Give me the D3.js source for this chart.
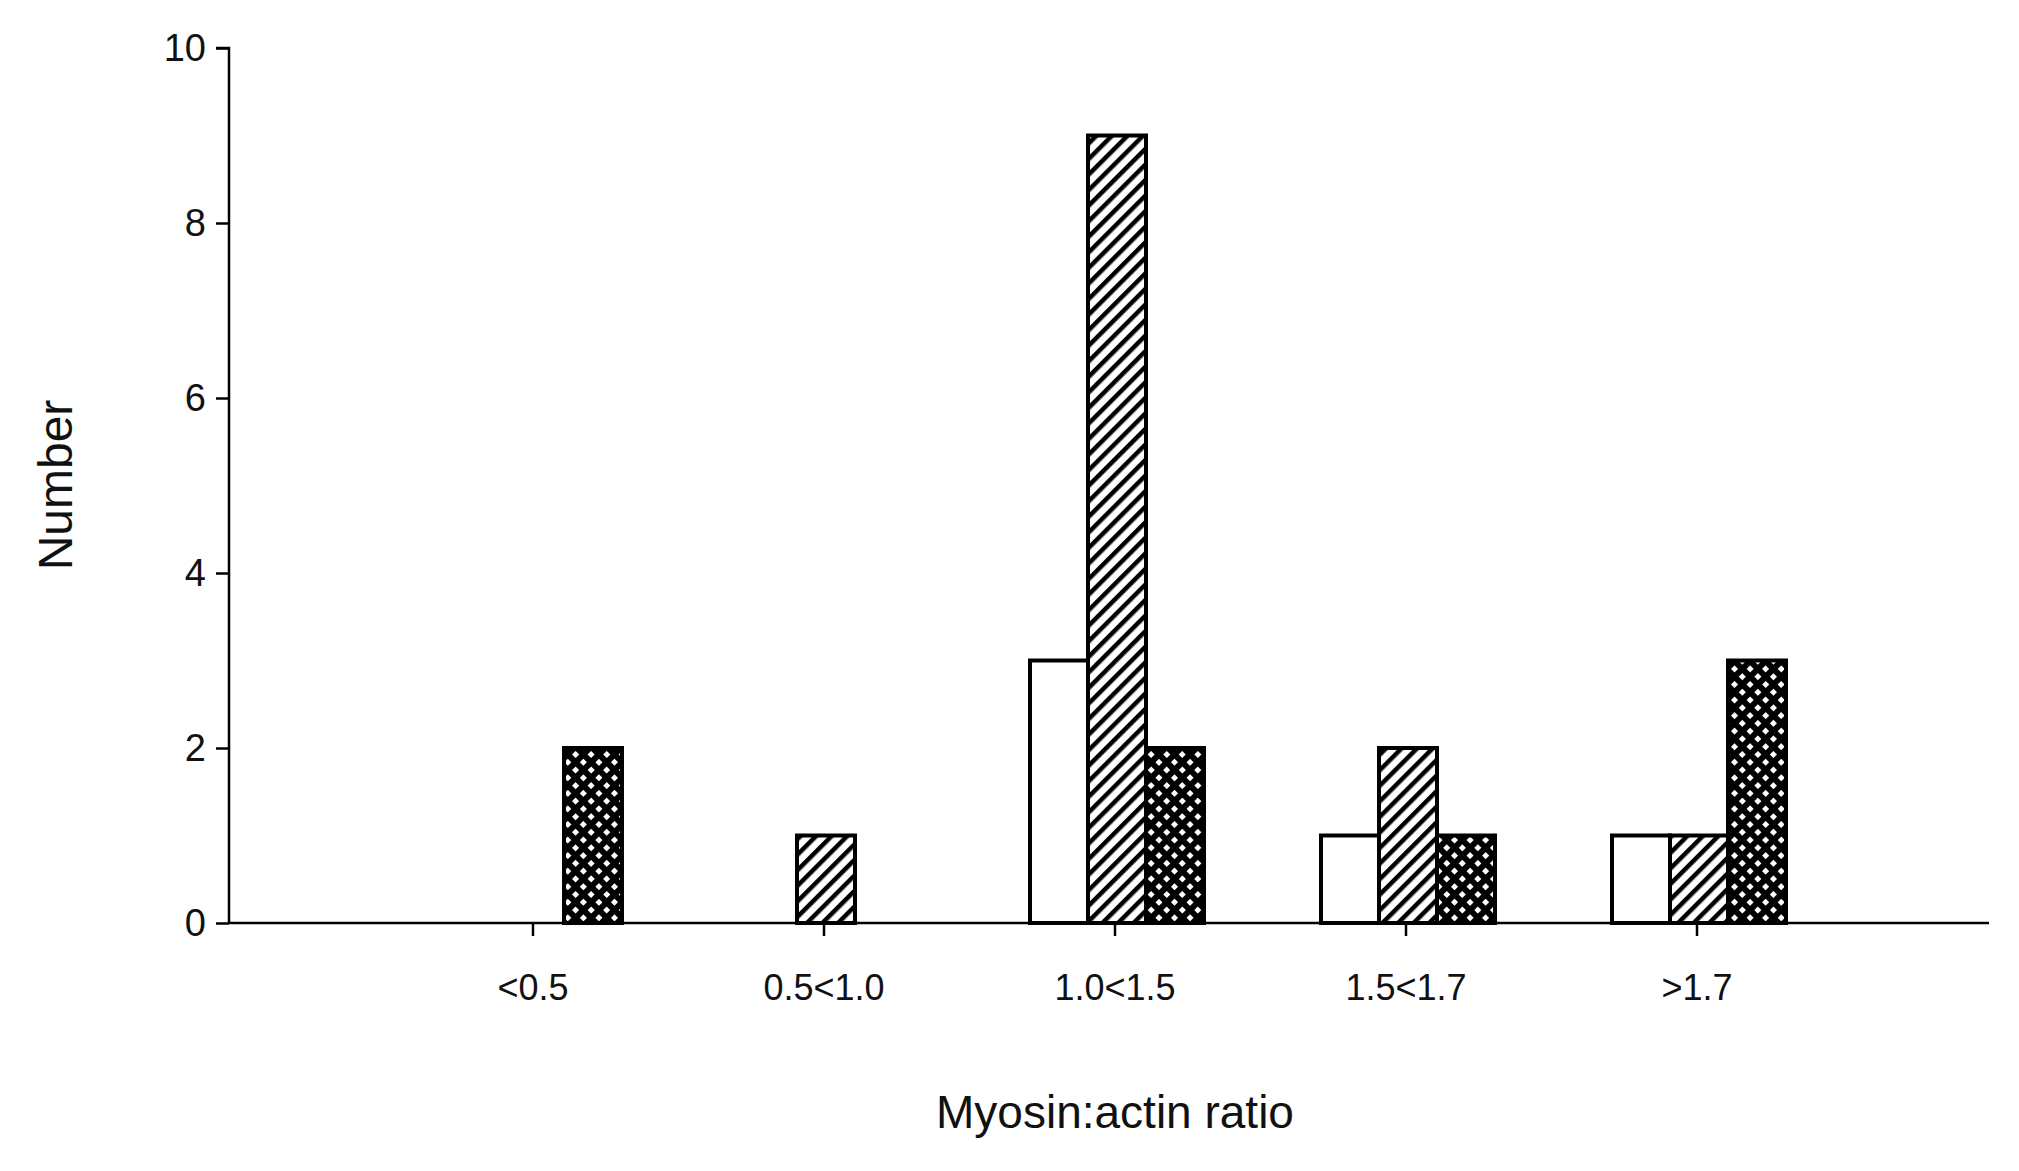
<!DOCTYPE html>
<html><head><meta charset="utf-8">
<script src="https://cdn.jsdelivr.net/npm/d3@7"></script>
<style>body{margin:0;background:#fff}</style></head>
<body><svg id="c" width="2019" height="1171"></svg>
<script>
const categories = ["<0.5","0.5<1.0","1.0<1.5","1.5<1.7",">1.7"];
const seriesOpen = [0,0,3,1,1];
const seriesHatch = [0,1,9,2,1];
const seriesCross = [2,0,2,1,3];
const yTicks = [0,2,4,6,8,10];

const svg = d3.select("#c");
const defs = svg.append("defs");
const ph = defs.append("pattern").attr("id","hatch").attr("patternUnits","userSpaceOnUse")
  .attr("width",11).attr("height",11).attr("patternTransform","rotate(45)");
ph.append("rect").attr("width",11).attr("height",11).attr("fill","#fff");
ph.append("rect").attr("x",0).attr("y",0).attr("width",4.5).attr("height",11).attr("fill","#000");
const pc = defs.append("pattern").attr("id","cross").attr("patternUnits","userSpaceOnUse")
  .attr("width",11).attr("height",11).attr("patternTransform","rotate(45)");
pc.append("rect").attr("width",11).attr("height",11).attr("fill","#000");
pc.append("rect").attr("x",3).attr("y",3).attr("width",5).attr("height",5).attr("fill","#fff");

const x0 = 229, xEnd = 1989, yTop = 48, yBot = 923;
const x = d3.scaleBand().domain(categories).range([533-145.5, 1697+145.5]);
const y = d3.scaleLinear().domain([0,10]).range([yBot, yTop]);

const series = [
  {vals:seriesOpen, fill:"#fff", off:-85},
  {vals:seriesHatch, fill:"url(#hatch)", off:-27},
  {vals:seriesCross, fill:"url(#cross)", off:31}
];
const bw = 58;
series.forEach(s=>{
  svg.append("g").selectAll("rect").data(categories.map((c,i)=>({c,v:s.vals[i]})).filter(d=>d.v>0))
    .join("rect")
    .attr("x",d=>x(d.c)+x.bandwidth()/2+s.off)
    .attr("y",d=>y(d.v))
    .attr("width",bw).attr("height",d=>yBot-y(d.v))
    .attr("fill",s.fill).attr("stroke","#000").attr("stroke-width",4);
});

const font = "Arial, 'Liberation Sans', sans-serif";
const ya = svg.append("g").attr("transform",`translate(${x0},0)`)
  .call(d3.axisLeft(y).tickValues(yTicks).tickSize(13).tickPadding(10));
ya.select(".domain").attr("stroke-width",2.5).attr("d",`M-13,${yTop}H0V${yBot}`);
ya.selectAll(".tick line").attr("stroke-width",2.5);
ya.selectAll("text").attr("font-family",font).attr("font-size",38).attr("fill","#111");

const xa = svg.append("g").attr("transform",`translate(0,${yBot})`)
  .call(d3.axisBottom(x).tickSize(13).tickPadding(38));
xa.select(".domain").attr("stroke-width",2.5).attr("d",`M${x0},0H${xEnd}`);
xa.selectAll(".tick line").attr("stroke-width",2.5);
xa.selectAll("text").attr("font-family",font).attr("font-size",36).attr("fill","#111");

svg.append("text").attr("x",1115).attr("y",1128).attr("text-anchor","middle")
  .attr("font-family",font).attr("font-size",46).attr("fill","#111").text("Myosin:actin ratio");
svg.append("text").attr("transform","translate(72,485) rotate(-90)").attr("text-anchor","middle")
  .attr("font-family",font).attr("font-size",48).attr("fill","#111").text("Number");
</script></body></html>
